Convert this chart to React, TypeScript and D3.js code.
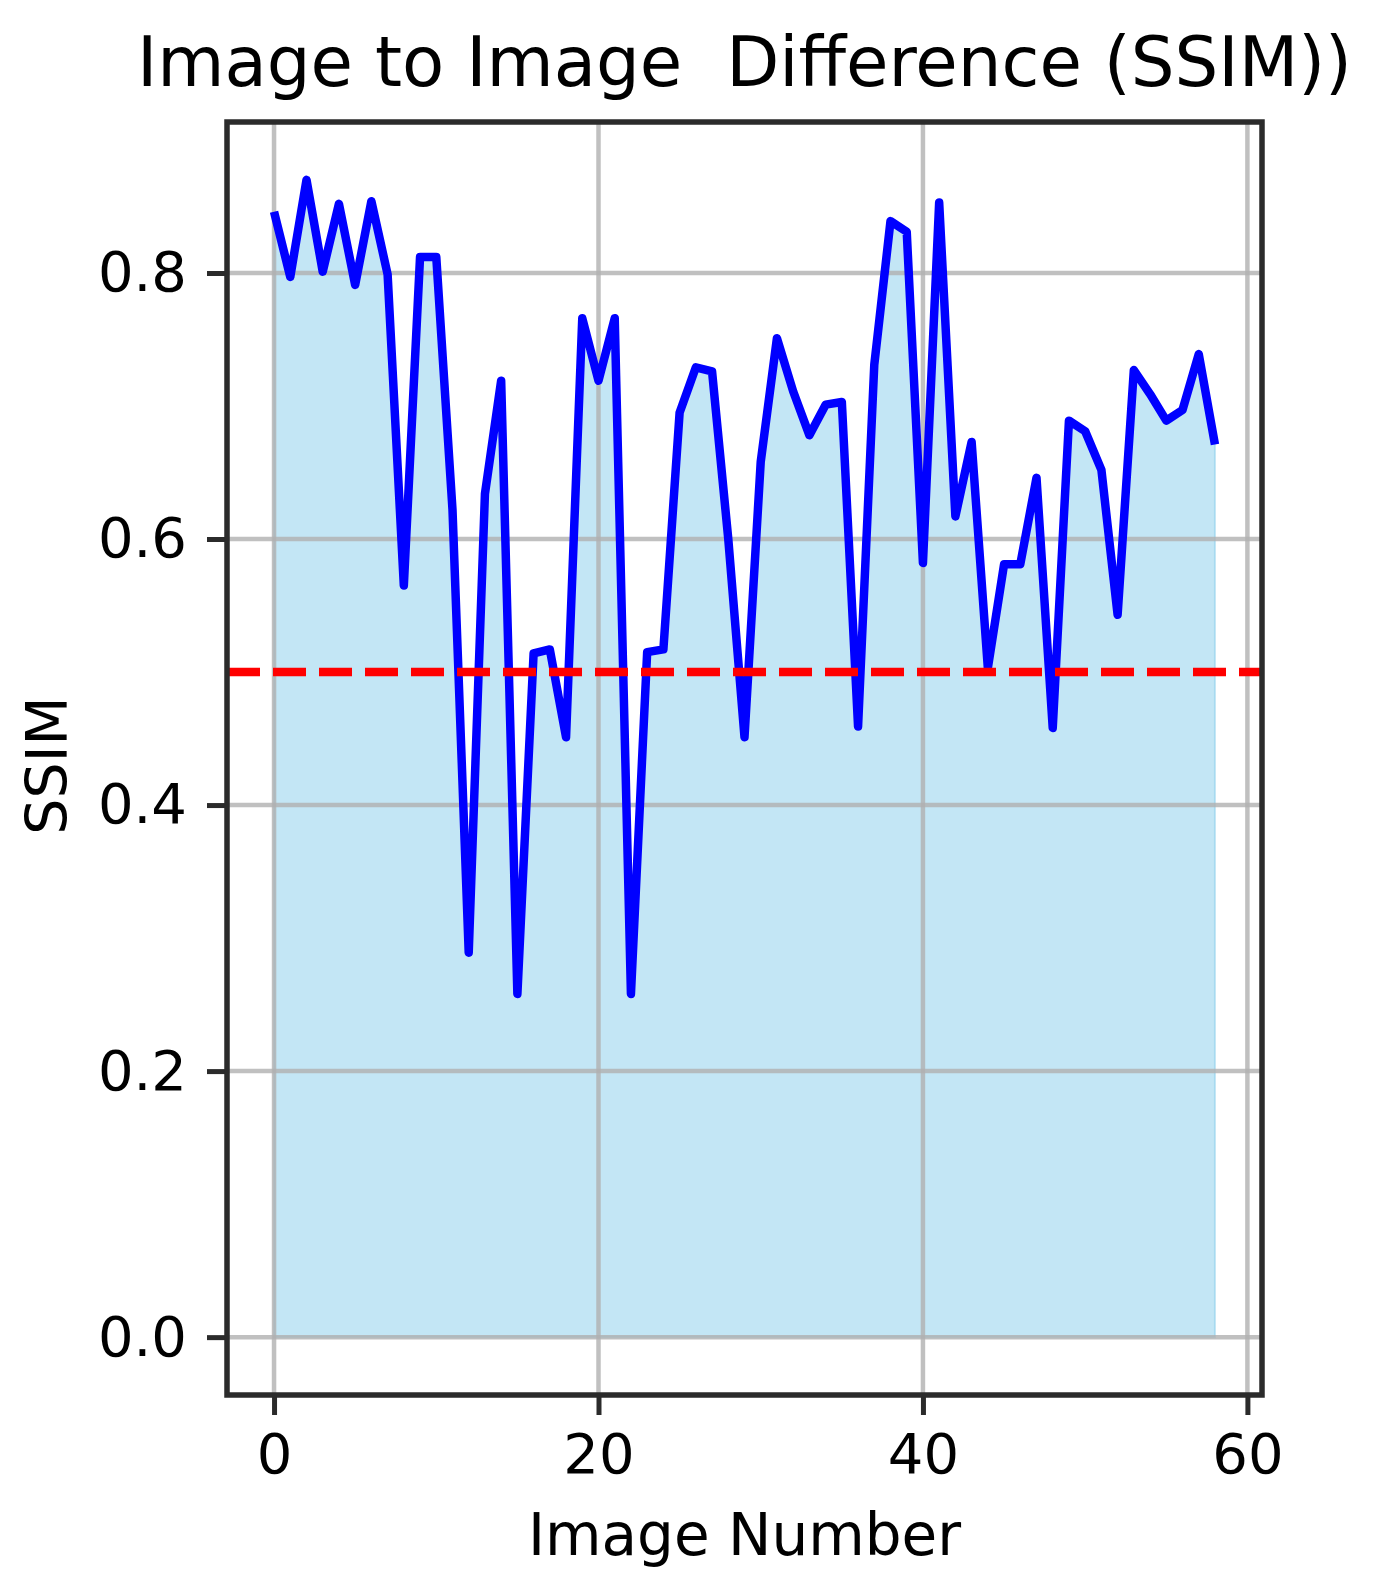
import React, { useEffect, useRef } from 'react';
import * as d3 from 'd3';

// SSIM of each image against the next one
const ssimValues = [
	0.846, 0.797, 0.870, 0.801, 0.852, 0.791, 0.854, 0.799, 0.565, 0.812,
	0.812, 0.622, 0.289, 0.634, 0.719, 0.258, 0.514, 0.517, 0.451, 0.766,
	0.719, 0.766, 0.258, 0.515, 0.517, 0.695, 0.729, 0.726, 0.600, 0.451,
	0.658, 0.751, 0.711, 0.678, 0.701, 0.703, 0.459, 0.731, 0.839, 0.831,
	0.582, 0.853, 0.617, 0.673, 0.503, 0.581, 0.581, 0.646, 0.458, 0.689,
	0.681, 0.652, 0.543, 0.727, 0.709, 0.689, 0.697, 0.739, 0.671
];
const threshold = 0.5;
const xTicks = [0, 20, 40, 60];
const xTickLabels = ['0', '20', '40', '60'];
const yTicks = [0, 0.2, 0.4, 0.6, 0.8];
const yTickLabels = ['0.0', '0.2', '0.4', '0.6', '0.8'];
const title = 'Image to Image  Difference (SSIM))';
const xLabel = 'Image Number';
const yLabel = 'SSIM';

const W = 1374;
const H = 1594;
const margin = { top: 122, right: 112, bottom: 199, left: 227 };
const font = '"DejaVu Sans", sans-serif';
const ink = '#2b2b2b';

const drawChart = (el: SVGSVGElement) => {
	const svg = d3.select(el);
	svg.selectAll('*').remove();

	const left = margin.left;
	const right = W - margin.right;
	const bottom = H - margin.bottom;
	const top = margin.top;
	const n = ssimValues.length;

	// matplotlib-like 5% margins
	const xPad = 0.05 * (n - 1);
	const x = d3.scaleLinear().domain([-xPad, n - 1 + xPad]).range([left, right]);
	const yMax = d3.max(ssimValues) as number;
	const yPad = 0.05 * yMax;
	const y = d3.scaleLinear().domain([-yPad, yMax + yPad]).range([bottom, top]);

	const area = d3.area<number>()
		.x((d, i) => x(i))
		.y0(y(0))
		.y1((d) => y(d));
	svg.append('path')
		.datum(ssimValues)
		.attr('d', area)
		.attr('fill', 'skyblue')
		.attr('fill-opacity', 0.5)
		.attr('stroke', 'skyblue')
		.attr('stroke-opacity', 0.5)
		.attr('stroke-width', 2);

	const grid = svg.append('g')
		.attr('stroke', '#b0b0b0')
		.attr('stroke-opacity', 0.8)
		.attr('stroke-width', 4.5);
	grid.selectAll('.gx').data(xTicks)
		.enter()
		.append('line')
		.attr('x1', (d) => x(d))
		.attr('x2', (d) => x(d))
		.attr('y1', top)
		.attr('y2', bottom);
	grid.selectAll('.gy').data(yTicks)
		.enter()
		.append('line')
		.attr('x1', left)
		.attr('x2', right)
		.attr('y1', (d) => y(d))
		.attr('y2', (d) => y(d));

	const line = d3.line<number>()
		.x((d, i) => x(i))
		.y((d) => y(d));
	svg.append('path')
		.datum(ssimValues)
		.attr('d', line)
		.attr('fill', 'none')
		.attr('stroke', 'blue')
		.attr('stroke-width', 8.5)
		.attr('stroke-linejoin', 'round');

	svg.append('line')
		.attr('x1', left)
		.attr('x2', right)
		.attr('y1', y(threshold))
		.attr('y2', y(threshold))
		.attr('stroke', 'red')
		.attr('stroke-width', 8.5)
		.attr('stroke-dasharray', '33 13');

	const xAxis = d3.axisBottom(x)
		.tickValues(xTicks)
		.tickFormat((d, i) => xTickLabels[i])
		.tickSize(20)
		.tickPadding(18);
	const yAxis = d3.axisLeft(y)
		.tickValues(yTicks)
		.tickFormat((d, i) => yTickLabels[i])
		.tickSize(20)
		.tickPadding(20);

	const styleAxis = (g) => {
		g.select('.domain').remove();
		g.selectAll('.tick line').attr('stroke', ink).attr('stroke-width', 5);
		g.selectAll('.tick text')
			.attr('fill', '#000')
			.style('font-family', font)
			.style('font-size', '56px');
	};
	svg.append('g')
		.attr('transform', `translate(0,${ bottom })`)
		.call(xAxis)
		.call(styleAxis);
	svg.append('g')
		.attr('transform', `translate(${ left },0)`)
		.call(yAxis)
		.call(styleAxis);

	svg.append('rect')
		.attr('x', left)
		.attr('y', top)
		.attr('width', right - left)
		.attr('height', bottom - top)
		.attr('fill', 'none')
		.attr('stroke', ink)
		.attr('stroke-width', 5.5);

	svg.append('text')
		.attr('x', (left + right) / 2)
		.attr('y', 86)
		.attr('text-anchor', 'middle')
		.style('white-space', 'pre')
		.style('font-family', font)
		.style('font-size', '69px')
		.text(title);
	svg.append('text')
		.attr('x', (left + right) / 2)
		.attr('y', 1555)
		.attr('text-anchor', 'middle')
		.style('font-family', font)
		.style('font-size', '58px')
		.text(xLabel);
	svg.append('text')
		.attr('transform', `translate(67,${ (top + bottom) / 2 + 7 }) rotate(-90)`)
		.attr('text-anchor', 'middle')
		.style('font-family', font)
		.style('font-size', '57px')
		.text(yLabel);
};

const App = () => {
	const ref = useRef<SVGSVGElement>(null);

	useEffect(() => {
		if (ref.current) drawChart(ref.current);
	}, []);

	return (
		<svg
			ref={ ref }
			width={ W }
			height={ H }
			style={ { position: 'absolute', left: 0, top: 0, background: '#fff' } }
		/>
	);
};

export default App;
